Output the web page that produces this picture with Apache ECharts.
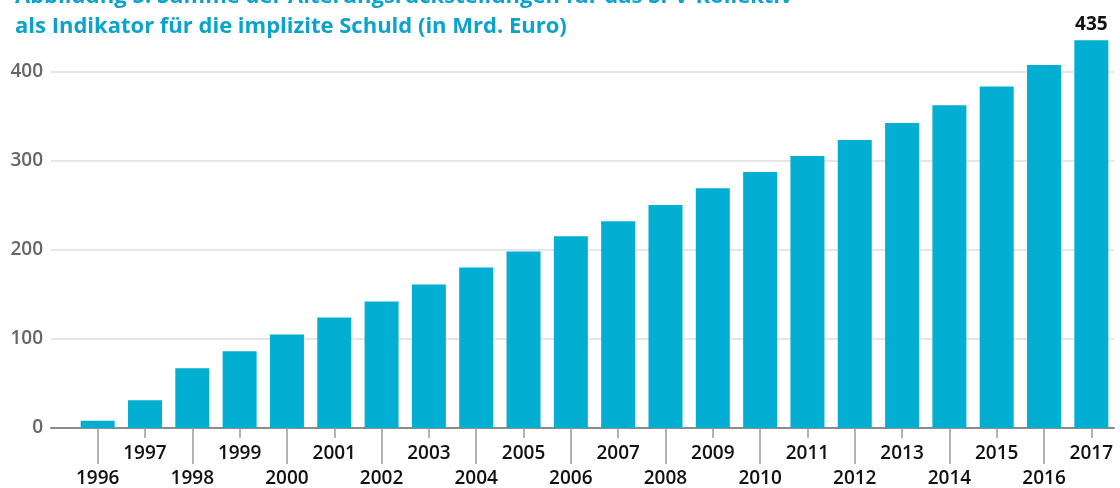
<!DOCTYPE html>
<html>
<head>
    <meta charset="utf-8">
    <title>Alterungsrückstellungen</title>
    <script src="https://cdn.jsdelivr.net/npm/echarts@6/dist/echarts.min.js"></script>
    <style>
        body { margin: 0; background: #fff; }
    </style>
</head>
<body>
<div id="main" style="width: 1120px;height:488px;"></div>
<script type="text/javascript">
    // Werte in Mrd. Euro
    var years = ['1996', '1997', '1998', '1999', '2000', '2001', '2002', '2003', '2004', '2005', '2006',
                 '2007', '2008', '2009', '2010', '2011', '2012', '2013', '2014', '2015', '2016', '2017'];
    var values = [8, 31, 67, 86, 105, 124, 142, 161, 180, 198, 215,
                  232, 250, 269, 287, 305, 323, 342, 362, 383, 407, 435];
    var yMin = 0, yMax = 480, yStep = 100;

    var titleLines = ['Abbildung 5: Summe der Alterungsrückstellungen für das SPV-Kollektiv',
                      'als Indikator für die implizite Schuld (in Mrd. Euro)'];

    var blue = '#02afd3';
    var labelFont = "'Open Sans', 'Noto Sans', sans-serif";

    var myChart = echarts.init(document.getElementById('main'));

    // nur der letzte Balken bekommt ein Label
    var barData = values.map(function (v, i) {
        if (i === values.length - 1) {
            return {
                value: v,
                label: {
                    show: true, position: 'top', distance: 6,
                    color: '#111', fontSize: 19, fontWeight: 'bold', fontFamily: labelFont
                }
            };
        }
        return v;
    });

    var option = {
        animation: false,
        title: {
            text: titleLines.join('\n'),
            left: 10,
            top: -23,
            textStyle: {
                color: '#0ba3cc',
                fontSize: 22,
                fontWeight: 'bold',
                lineHeight: 30,
                fontFamily: labelFont
            }
        },
        grid: [
            { left: 51, right: 6, top: 0, bottom: 60 },
            { left: 74, right: 5, top: 0, bottom: 60 }
        ],
        xAxis: [
            {   // nur die Nulllinie über die ganze Breite
                gridIndex: 0, type: 'value', min: 0, max: 1,
                axisLine: { show: true, lineStyle: { color: '#8c8c8c', width: 2 } },
                axisTick: { show: false }, axisLabel: { show: false }, splitLine: { show: false }
            },
            {   // kurze Striche, ungerade Jahre oben
                gridIndex: 1, type: 'category', data: years, position: 'bottom',
                axisLine: { show: false },
                axisTick: { show: true, interval: 0, alignWithLabel: true, length: 10,
                            lineStyle: { color: '#9a9a9a', width: 1.5 } },
                axisLabel: {
                    interval: function (i) { return i % 2 === 1; },
                    margin: 16, color: '#111', fontSize: 19, fontWeight: 600, fontFamily: labelFont
                }
            },
            {   // lange Striche, gerade Jahre unten
                gridIndex: 1, type: 'category', data: years, position: 'bottom',
                axisLine: { show: false },
                axisTick: { show: true, interval: 1, alignWithLabel: true, length: 36,
                            lineStyle: { color: '#9a9a9a', width: 1.5 } },
                axisLabel: {
                    interval: function (i) { return i % 2 === 0; },
                    margin: 41, color: '#111', fontSize: 19, fontWeight: 600, fontFamily: labelFont
                }
            }
        ],
        yAxis: [
            {
                gridIndex: 0, type: 'value', min: yMin, max: yMax, interval: yStep,
                axisLine: { show: false }, axisTick: { show: false },
                axisLabel: { showMaxLabel: false, margin: 8, color: '#666', fontSize: 19,
                             fontWeight: 600, fontFamily: labelFont },
                splitLine: { showMaxLine: false, lineStyle: { color: '#dedede', width: 1.5 } }
            },
            {
                gridIndex: 1, type: 'value', min: yMin, max: yMax, interval: yStep, show: false
            }
        ],
        series: [{
            name: 'Alterungsrückstellungen',
            type: 'bar',
            xAxisIndex: 1,
            yAxisIndex: 1,
            barWidth: 34,
            itemStyle: { color: blue },
            data: barData
        }]
    };

    myChart.setOption(option);
</script>
</body>
</html>
